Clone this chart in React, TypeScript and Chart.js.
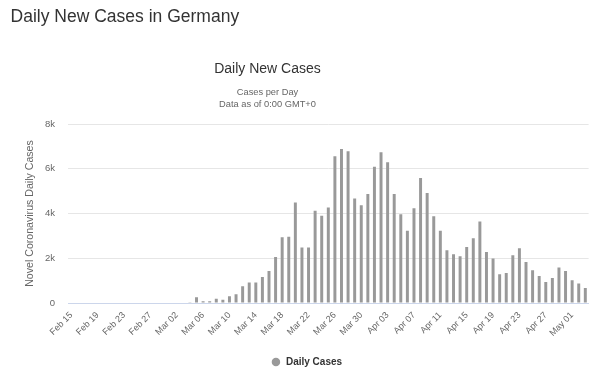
import React, { useEffect, useRef } from 'react';
import { Chart, registerables } from 'chart.js';

Chart.register(...registerables);

const dateLabels = [
  'Feb 15', 'Feb 16', 'Feb 17', 'Feb 18', 'Feb 19', 'Feb 20', 'Feb 21', 'Feb 22', 'Feb 23', 'Feb 24',
  'Feb 25', 'Feb 26', 'Feb 27', 'Feb 28', 'Feb 29',
  'Mar 01', 'Mar 02', 'Mar 03', 'Mar 04', 'Mar 05', 'Mar 06', 'Mar 07', 'Mar 08', 'Mar 09', 'Mar 10',
  'Mar 11', 'Mar 12', 'Mar 13', 'Mar 14', 'Mar 15', 'Mar 16', 'Mar 17', 'Mar 18', 'Mar 19', 'Mar 20',
  'Mar 21', 'Mar 22', 'Mar 23', 'Mar 24', 'Mar 25', 'Mar 26', 'Mar 27', 'Mar 28', 'Mar 29', 'Mar 30',
  'Mar 31',
  'Apr 01', 'Apr 02', 'Apr 03', 'Apr 04', 'Apr 05', 'Apr 06', 'Apr 07', 'Apr 08', 'Apr 09', 'Apr 10',
  'Apr 11', 'Apr 12', 'Apr 13', 'Apr 14', 'Apr 15', 'Apr 16', 'Apr 17', 'Apr 18', 'Apr 19', 'Apr 20',
  'Apr 21', 'Apr 22', 'Apr 23', 'Apr 24', 'Apr 25', 'Apr 26', 'Apr 27', 'Apr 28', 'Apr 29', 'Apr 30',
  'May 01', 'May 02', 'May 03',
];

const dailyCases = [
  0, 0, 0, 0, 0, 0, 0, 0, 0, 0,
  0, 0, 0, 0, 0,
  0, 0, 0, 30, 254, 75, 75, 194, 150, 300,
  390, 746, 911, 911, 1165, 1434, 2060, 2941, 2956, 4494,
  2478, 2478, 4121, 3897, 4270, 6554, 6883, 6778, 4673, 4374,
  4867,
  6091, 6733, 6285, 4867, 3971, 3225, 4240, 5584, 4912, 3882,
  3225, 2359, 2180, 2090, 2508, 2896, 3643, 2284, 1986, 1284,
  1344, 2135, 2449, 1836, 1463, 1209, 941, 1120, 1583, 1433,
  1015, 866, 672,
];

const seriesName = 'Daily Cases';
const pageTitle = 'Daily New Cases in Germany';
const chartTitle = 'Daily New Cases';
const chartSubtitles = ['Cases per Day', 'Data as of 0:00 GMT+0'];
const yAxisTitle = 'Novel Coronavirus Daily Cases';

const FONT = '"Liberation Sans", Arial, Helvetica, sans-serif';

export default function App() {
  const ref = useRef<HTMLCanvasElement>(null);

  useEffect(() => {
    Chart.defaults.font.family = FONT;
    const chart = new Chart(ref.current!, {
      type: 'bar',
      data: {
        labels: dateLabels,
        datasets: [
          {
            label: seriesName,
            data: dailyCases,
            backgroundColor: '#999999',
            borderWidth: 0,
            barPercentage: 0.45,
            categoryPercentage: 1,
          },
        ],
      },
      options: {
        responsive: false,
        animation: false,
        layout: { padding: { top: 124, left: 20, right: 7, bottom: 0 } },
        plugins: {
          title: { display: false },
          tooltip: { enabled: false },
          legend: {
            position: 'bottom',
            labels: {
              usePointStyle: true,
              pointStyle: 'circle',
              boxWidth: 10,
              boxHeight: 6,
              padding: 10,
              color: '#333333',
              font: { size: 10, weight: 'bold', family: FONT },
            },
          },
        },
        scales: {
          x: {
            grid: { display: false, drawTicks: false },
            border: { display: true, color: '#ccd6eb', width: 1 },
            ticks: {
              autoSkip: false,
              maxRotation: 45,
              minRotation: 45,
              padding: 7,
              color: '#666666',
              font: { size: 9, family: FONT },
              callback: (_v: any, i: number) => (i % 4 === 0 ? dateLabels[i] : ''),
            },
            afterFit: (s: any) => {
              s.height = 44;
            },
          },
          y: {
            min: 0,
            max: 8000,
            ticks: {
              stepSize: 2000,
              padding: 13,
              color: '#666666',
              font: { size: 9.5, family: FONT },
              callback: (v: any) => (v === 0 ? '0' : v / 1000 + 'k'),
            },
            grid: { color: '#e6e6e6', drawTicks: false },
            border: { display: false },
            title: {
              display: true,
              text: yAxisTitle,
              color: '#666666',
              font: { size: 10.6, family: FONT },
              padding: { top: 3.6, bottom: 0 },
            },
            afterFit: (s: any) => {
              s.width = 48;
            },
          },
        },
      },
    } as any);
    return () => chart.destroy();
  }, []);

  const textBase: React.CSSProperties = {
    position: 'absolute',
    fontFamily: FONT,
    lineHeight: 1,
    whiteSpace: 'nowrap',
    margin: 0,
  };

  return (
    <div style={{ position: 'absolute', left: 0, top: 0, width: 600, height: 377, background: '#fff' }}>
      <canvas ref={ref} width={600} height={377} style={{ position: 'absolute', left: 0, top: 0 }} />
      <div style={{ ...textBase, left: 10.6, top: 7.7, fontSize: 17.5, color: '#333' }}>{pageTitle}</div>
      <div style={{ ...textBase, left: 0, width: 535, textAlign: 'center', top: 61, fontSize: 14, color: '#333' }}>
        {chartTitle}
      </div>
      <div style={{ ...textBase, left: 0, width: 535, textAlign: 'center', top: 87.8, fontSize: 9.3, color: '#666' }}>
        {chartSubtitles[0]}
      </div>
      <div style={{ ...textBase, left: 0, width: 535, textAlign: 'center', top: 100.4, fontSize: 9.3, color: '#666' }}>
        {chartSubtitles[1]}
      </div>
    </div>
  );
}
